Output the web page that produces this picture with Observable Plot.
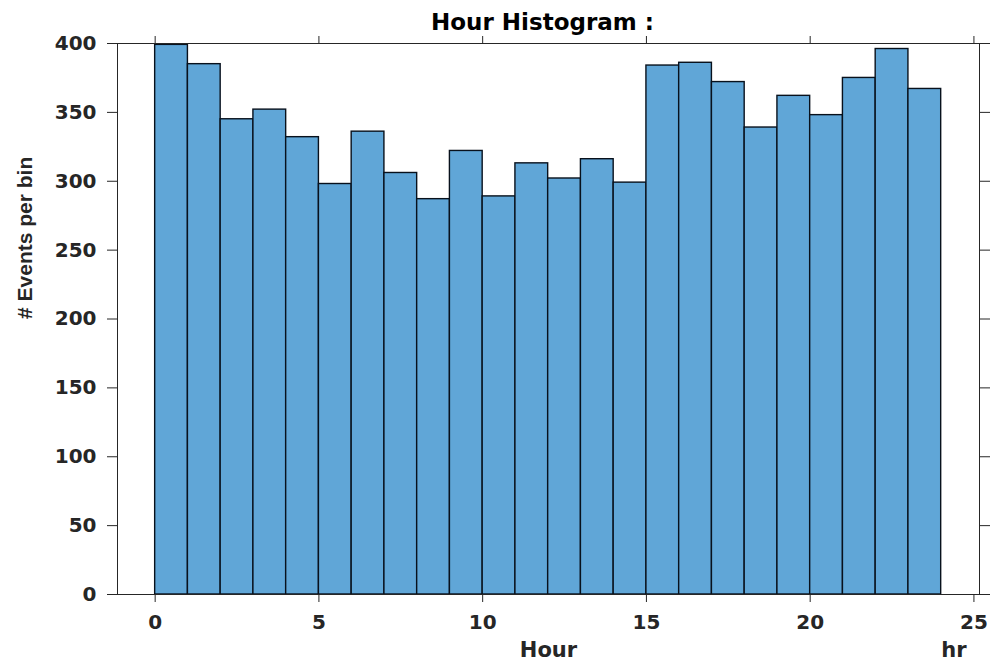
<!DOCTYPE html>
<html><head><meta charset="utf-8">
<script src="https://cdn.jsdelivr.net/npm/d3@7"></script>
<script src="https://cdn.jsdelivr.net/npm/@observablehq/plot@0.6"></script>
<style>body{margin:0;background:#fff;overflow:hidden}</style>
</head><body><div id="chart"></div>
<script>
const binStart = [0,1,2,3,4,5,6,7,8,9,10,11,12,13,14,15,16,17,18,19,20,21,22,23];
const counts = [399,385,345,352,332,298,336,306,287,322,289,313,302,316,299,384,386,372,339,362,348,375,396,367];
const xTicks = [0,5,10,15,20,25];
const yTicks = [0,50,100,150,200,250,300,350,400];
const titleText = "Hour Histogram :";
const xLabel = "Hour";
const xUnit = "hr";
const yLabel = "# Events per bin";

const data = binStart.map((h, i) => ({x1: h, x2: h + 1, y: counts[i]}));
const axisColor = "#262626";
const hFont = "'DejaVu Sans', sans-serif";

const chart = Plot.plot({
  width: 991, height: 663,
  marginLeft: 117, marginRight: 12, marginTop: 43, marginBottom: 69,
  x: {domain: [-1.15, 25.17]},
  y: {domain: [0, 400]},
  style: {fontFamily: hFont, fontWeight: "bold", fontSize: "20px", color: axisColor, background: "#fff"},
  marks: [
    Plot.rectY(data, {x1: "x1", x2: "x2", y: "y", fill: "#60a6d7", stroke: "#08111c", strokeWidth: 1.4}),
    Plot.frame({stroke: axisColor, strokeWidth: 1}),
    Plot.axisX({anchor: "bottom", ticks: xTicks, tickSize: 8, tickPadding: 12, label: null, stroke: axisColor, fill: axisColor}),
    Plot.axisX({anchor: "top", ticks: xTicks, tickSize: 8, tickFormat: () => "", label: null, stroke: axisColor}),
    Plot.axisY({anchor: "left", ticks: yTicks, tickSize: 10, tickPadding: 11, label: null, stroke: axisColor, fill: axisColor}),
    Plot.axisY({anchor: "right", ticks: yTicks, tickSize: 10, tickFormat: () => "", label: null, stroke: axisColor}),
    Plot.text([titleText], {frameAnchor: "top", lineAnchor: "middle", dx: -6, dy: -21, fontSize: 23, fontWeight: "bold", fill: "#000", fontFamily: hFont}),
    Plot.text([xLabel], {frameAnchor: "bottom", lineAnchor: "middle", dy: 56, fontSize: 21, fontWeight: "bold", fill: axisColor, fontFamily: hFont}),
    Plot.text([xUnit], {frameAnchor: "bottom-right", lineAnchor: "middle", dx: -13, dy: 56, fontSize: 21, fontWeight: "bold", fill: axisColor, fontFamily: hFont}),
    Plot.text([yLabel], {frameAnchor: "left", dx: -92, rotate: -90, fontSize: 21, fontWeight: "bold", fill: axisColor, fontFamily: "'Liberation Sans', Arial, sans-serif"})
  ]
});
document.getElementById("chart").append(chart);
</script>
</body></html>
